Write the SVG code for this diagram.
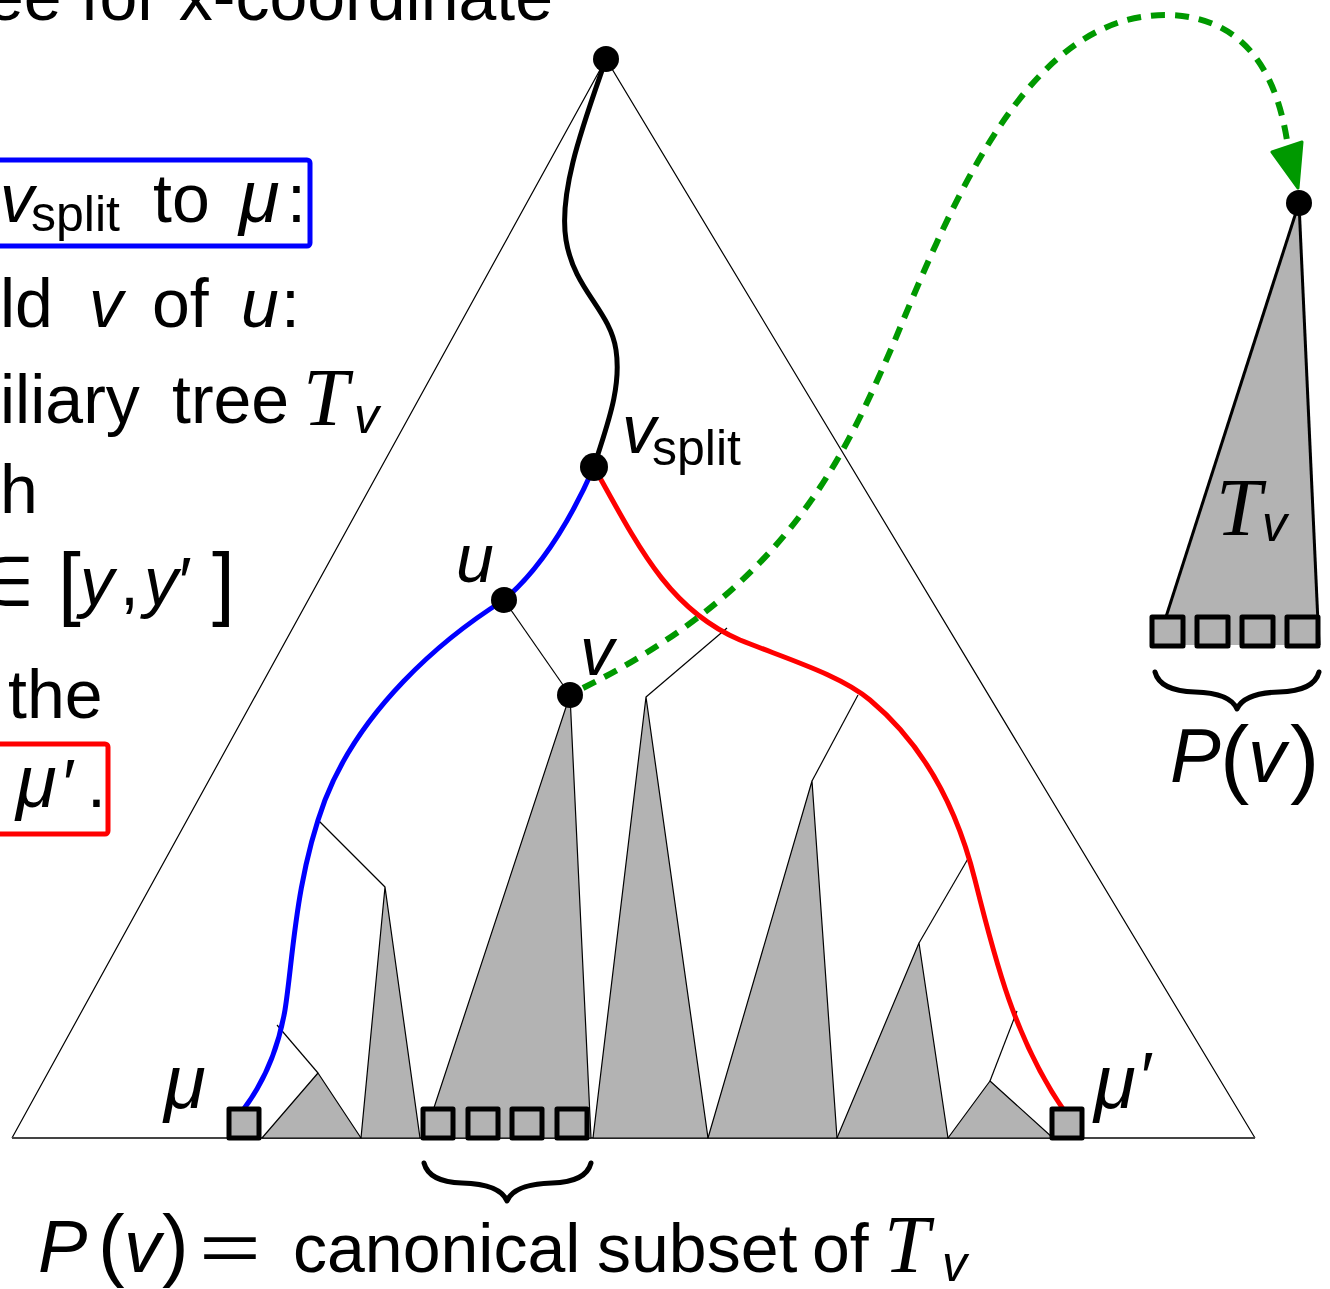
<svg xmlns="http://www.w3.org/2000/svg" width="1330" height="1289" viewBox="0 0 1330 1289">
<style>
.t{font-family:"Liberation Sans","DejaVu Sans",sans-serif;font-size:68px;fill:#000}
.i{font-style:italic}
.s{font-size:50px}
.p{font-size:82px}
.cal{font-family:"Liberation Serif","DejaVu Serif",serif;font-style:italic;font-size:82px}
.thin{fill:none;stroke:#000;stroke-width:1.2}
.sub{fill:#b3b3b3;stroke:#000;stroke-width:1.2;stroke-linejoin:round}
.leaf{fill:#b3b3b3;stroke:#000;stroke-width:5;stroke-linejoin:round}
.node{fill:#000}
.brace{fill:none;stroke:#000;stroke-width:5;stroke-linecap:round;stroke-linejoin:round}
</style>
<rect width="1330" height="1289" fill="#fff"/>

<!-- left text -->
<g id="text-left">
<text class="t" x="553" y="20" text-anchor="end">ee for x-coordinate</text>
<rect x="-10" y="160" width="320" height="86" rx="3" fill="none" stroke="#0000ff" stroke-width="5"/>
<text class="t" y="222"><tspan class="i" x="0">v</tspan><tspan class="s" x="31" y="231">split</tspan><tspan x="153" y="222">to</tspan><tspan class="i" x="239" style="font-size:74px">μ</tspan><tspan x="287">:</tspan></text>
<text class="t" y="327"><tspan x="0">ld</tspan><tspan class="i" x="89">v</tspan><tspan x="152">of</tspan><tspan class="i" x="241">u</tspan><tspan x="281">:</tspan></text>
<text class="t" y="423"><tspan x="0">iliary</tspan><tspan x="172">tree</tspan></text>
<text class="cal" x="303" y="425">T</text>
<text class="t i s" x="354" y="433">v</text>
<text class="t" x="0" y="513">h</text>
<text class="t" y="605"><tspan x="-25">∈</tspan><tspan class="p" x="58" y="610">[</tspan><tspan class="i" x="80" y="605">y</tspan><tspan x="120">,</tspan><tspan class="i" x="144">y</tspan><tspan x="179">′</tspan><tspan class="p" x="212" y="610">]</tspan></text>
<text class="t" x="8" y="718">the</text>
<rect x="-10" y="744" width="118" height="90" rx="3" fill="none" stroke="#ff0000" stroke-width="5"/>
<text class="t" y="807"><tspan class="i" x="16" style="font-size:74px">μ</tspan><tspan x="63">′</tspan><tspan x="87">.</tspan></text>
</g>

<!-- big tree outline -->
<g id="main-tree">
<polyline class="thin" points="12,1138 606,59 1255,1138"/>
<line x1="12" y1="1138" x2="1255" y2="1138" stroke="#444" stroke-width="2"/>
</g>

<!-- subtrees -->
<g id="subtree-a"><polygon class="sub" points="318,1073 262,1138 361,1138"/></g>
<g id="subtree-b"><polygon class="sub" points="385,887 361,1138 420,1138"/></g>
<g id="subtree-v"><polygon class="sub" points="570,695 424,1138 591,1138"/></g>
<g id="subtree-c"><polygon class="sub" points="646,697 593,1138 708,1138"/></g>
<g id="subtree-d"><polygon class="sub" points="812,781 708,1138 837,1138"/></g>
<g id="subtree-e"><polygon class="sub" points="919,943 837,1138 948,1138"/></g>
<g id="subtree-f"><polygon class="sub" points="990,1081 948,1138 1053,1138"/></g>

<!-- connectors -->
<g id="connectors">
<line class="thin" x1="318" y1="820" x2="385" y2="887"/>
<line class="thin" x1="277" y1="1025" x2="318" y2="1073"/>
<line class="thin" x1="504" y1="600" x2="570" y2="695"/>
<line class="thin" x1="727" y1="628" x2="646" y2="697"/>
<line class="thin" x1="858" y1="695" x2="812" y2="781"/>
<line class="thin" x1="969" y1="857" x2="919" y2="943"/>
<line class="thin" x1="1017" y1="1011" x2="990" y2="1081"/>
<path d="M606,59 C585,120 558,190 566,240 C574,290 610,310 616,350 C622,390 605,430 594,467" fill="none" stroke="#000" stroke-width="5" stroke-linecap="round"/>
<path d="M594,467 C575,510 545,565 504,600 C440,640 360,710 325,800 C295,880 293,960 285,1010 C278,1050 262,1085 243,1110" fill="none" stroke="#0000ff" stroke-width="5"/>
<path d="M594,467 C640,550 670,610 740,640 C790,660 840,675 870,700 C930,750 960,820 975,880 C995,960 1015,1040 1065,1112" fill="none" stroke="#ff0000" stroke-width="5"/>
<path d="M583,688 C790,585 845,455 895,340 C955,195 1030,15 1165,15 C1255,15 1280,90 1288,147" fill="none" stroke="#009900" stroke-width="6" stroke-dasharray="14 10"/>
<polygon points="1272,152 1302,142 1298,188" fill="#009900" stroke="#009900" stroke-width="3" stroke-linejoin="round"/>
</g>

<!-- leaves -->
<g id="leaf-mu"><rect class="leaf" x="229" y="1109" width="30" height="29"/></g>
<g id="leaves-pv">
<rect class="leaf" x="423" y="1109" width="30" height="29"/>
<rect class="leaf" x="468" y="1109" width="30" height="29"/>
<rect class="leaf" x="512" y="1109" width="30" height="29"/>
<rect class="leaf" x="557" y="1109" width="30" height="29"/>
</g>
<g id="leaf-muprime"><rect class="leaf" x="1052" y="1109" width="30" height="29"/></g>

<!-- nodes -->
<g id="node-root"><circle class="node" cx="606" cy="59" r="13"/></g>
<g id="node-vsplit"><circle class="node" cx="594" cy="467" r="14"/>
<text class="t i" x="622" y="453">v</text><text class="t s" x="652" y="465">split</text></g>
<g id="node-u"><circle class="node" cx="504" cy="600" r="13"/><text class="t i" x="456" y="582">u</text></g>
<g id="node-v"><circle class="node" cx="570" cy="695" r="13"/><text class="t i" x="580" y="675">v</text></g>
<g id="label-mu"><text class="t i" x="164" y="1108" style="font-size:76px">μ</text></g>
<g id="label-muprime"><text class="t i" x="1094" y="1108" style="font-size:76px">μ</text><text class="t" x="1141" y="1100">′</text></g>

<!-- right auxiliary tree -->
<g id="aux-tree">
<polygon points="1299,203 1163,625 1163,645 1320,645" fill="#b3b3b3"/>
<line x1="1299" y1="203" x2="1165" y2="620" stroke="#000" stroke-width="3"/>
<line x1="1299" y1="203" x2="1319" y2="645" stroke="#000" stroke-width="3"/>
<circle class="node" cx="1299" cy="203" r="13"/>
<text class="cal" x="1216" y="535">T</text>
<text class="t i s" x="1262" y="541">v</text>
<rect class="leaf" x="1152" y="617" width="31" height="29"/>
<rect class="leaf" x="1197" y="617" width="31" height="29"/>
<rect class="leaf" x="1242" y="617" width="31" height="29"/>
<rect class="leaf" x="1287" y="617" width="31" height="29"/>
<path class="brace" d="M1155,672 Q1160,691 1195,692 Q1230,693 1237,709 Q1244,693 1279,692 Q1314,691 1319,672"/>
<text class="t" y="782" style="font-size:76px"><tspan class="i" x="1170">P</tspan><tspan x="1220" y="787" style="font-size:88px">(</tspan><tspan class="i" x="1248" y="782">v</tspan><tspan x="1290" y="787" style="font-size:88px">)</tspan></text>
</g>

<!-- bottom brace and caption -->
<g id="caption">
<path class="brace" d="M424,1163 Q429,1182 462,1183 Q500,1184 507,1201 Q514,1184 552,1183 Q586,1182 591,1163"/>
<text class="t" y="1272" style="font-size:74px"><tspan class="i" x="38">P</tspan><tspan x="98" y="1271" style="font-size:80px">(</tspan><tspan class="i" x="124" y="1272">v</tspan><tspan x="162" y="1271" style="font-size:80px">)</tspan></text>
<text class="t" x="199" y="1270" textLength="62" lengthAdjust="spacingAndGlyphs" style="font-size:66px">=</text>
<text class="t" y="1272"><tspan x="293">canonical</tspan><tspan x="597">subset</tspan><tspan x="812">of</tspan></text>
<text class="cal" x="884" y="1272">T</text>
<text class="t i s" x="942" y="1281">v</text>
</g>
</svg>
